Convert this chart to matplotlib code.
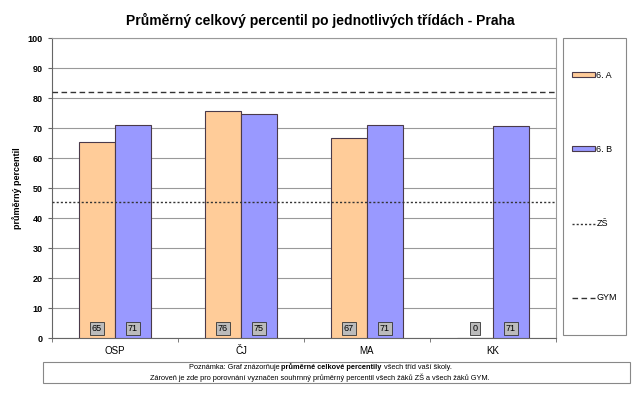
import numpy as np
import matplotlib.pyplot as plt
from matplotlib.lines import Line2D
from matplotlib.patches import Patch, Rectangle

plt.rcParams['font.family'] = ['Liberation Sans', 'DejaVu Sans']

categories = ['OSP', 'ČJ', 'MA', 'KK']
class_a = [65.2, 75.8, 66.6, 0]
class_b = [70.9, 74.7, 71.1, 70.6]
labels_a = ['65', '76', '67', '0']
labels_b = ['71', '75', '71', '71']
zs_avg = 45.3
gym_avg = 82.0

fig = plt.figure(figsize=(6.4, 3.97), dpi=100)
ax = fig.add_axes([52 / 640, 1 - 338 / 397, 504 / 640, 300 / 397])

x = np.arange(len(categories))
w = 0.285
ax.bar(x - w / 2, class_a, w, color='#FFCC99', edgecolor='#4a3a4a', linewidth=0.8, zorder=3)
ax.bar(x + w / 2, class_b, w, color='#9999FF', edgecolor='#4a3a4a', linewidth=0.8, zorder=3)

for xi, la, lb in zip(x, labels_a, labels_b):
    for off, lab in ((-w / 2, la), (w / 2, lb)):
        ax.text(xi + off, 3.2, lab, ha='center', va='center', fontsize=6.5, zorder=5,
                bbox=dict(boxstyle='square,pad=0.25', fc='#BBBBBB', ec='#333333', lw=0.6))

ax.axhline(zs_avg, color='#333333', ls=(0, (1.5, 1.5)), lw=1.0, zorder=4)
ax.axhline(gym_avg, color='#333333', ls=(0, (4, 2.5)), lw=1.0, zorder=4)

ax.set_xlim(-0.5, len(categories) - 0.5)
ax.set_ylim(0, 100)
ax.set_yticks(range(0, 101, 10))
ax.set_xticks(x)
ax.set_xticklabels(categories, fontsize=7)
ax.set_xticks(np.arange(-0.5, len(categories)), minor=True)
ax.tick_params(axis='x', which='major', length=0, pad=6)
ax.tick_params(axis='x', which='minor', length=3, color='#666666')
ax.tick_params(axis='y', labelsize=6.5, length=3, color='#666666')
for lab in ax.get_yticklabels():
    lab.set_fontweight('bold')
ax.grid(axis='y', color='#999999', lw=0.8, zorder=0)
for side in ('top', 'right'):
    ax.spines[side].set_color('#999999')
ax.spines['left'].set_color('#666666')
ax.spines['bottom'].set_color('#666666')
ax.set_ylabel('průměrný percentil', fontsize=6.5, fontweight='bold', labelpad=4)

fig.text(0.5, 1 - 20 / 397, 'Průměrný celkový percentil po jednotlivých třídách - Praha',
         ha='center', va='center', fontsize=10, fontweight='bold')

# legend box
fig.patches.append(Rectangle((563 / 640, 1 - 335 / 397), 63 / 640, 297 / 397,
                             transform=fig.transFigure, fill=False, ec='#888888', lw=0.8))
handles = [Patch(fc='#FFCC99', ec='#4a3a4a', lw=0.8),
           Patch(fc='#9999FF', ec='#4a3a4a', lw=0.8),
           Line2D([], [], color='#333333', ls=(0, (1.5, 1.5)), lw=1.0),
           Line2D([], [], color='#333333', ls=(0, (4, 2.5)), lw=1.0)]
names = ['6. A', '6. B', 'ZŠ', 'GYM']
ys = [75, 149, 224, 298]
for h, n, yy in zip(handles, names, ys):
    fig.legend([h], [n], loc='center left', bbox_to_anchor=(572 / 640, 1 - yy / 397),
               frameon=False, fontsize=6.5, handlelength=2.6, handleheight=0.45,
               handletextpad=0.1, borderpad=0, borderaxespad=0)

# note box
fig.patches.append(Rectangle((43 / 640, 1 - 383 / 397), 587 / 640, 21 / 397,
                             transform=fig.transFigure, fill=False, ec='#888888', lw=0.8))
note_parts = [('Poznámka: Graf znázorňuje ', 'normal'),
              ('průměrné celkové percentily', 'bold'),
              (' všech tříd vaší školy.', 'normal')]
renderer = fig.canvas.get_renderer()
pieces = []
for s, fw in note_parts:
    t = fig.text(0, 1 - 367.5 / 397, s, ha='left', va='center', fontsize=5.3, fontweight=fw)
    pieces.append((t, t.get_window_extent(renderer).width))
total = sum(wd for _, wd in pieces)
xpos = 320 - total / 2
for t, wd in pieces:
    t.set_x(xpos / 640)
    xpos += wd
fig.text(0.5, 1 - 377.5 / 397,
         'Zároveň je zde pro porovnání vyznačen souhrnný průměrný percentil všech žáků ZŠ a všech žáků GYM.',
         ha='center', va='center', fontsize=5.3)

fig.savefig('out.png', dpi=100)
